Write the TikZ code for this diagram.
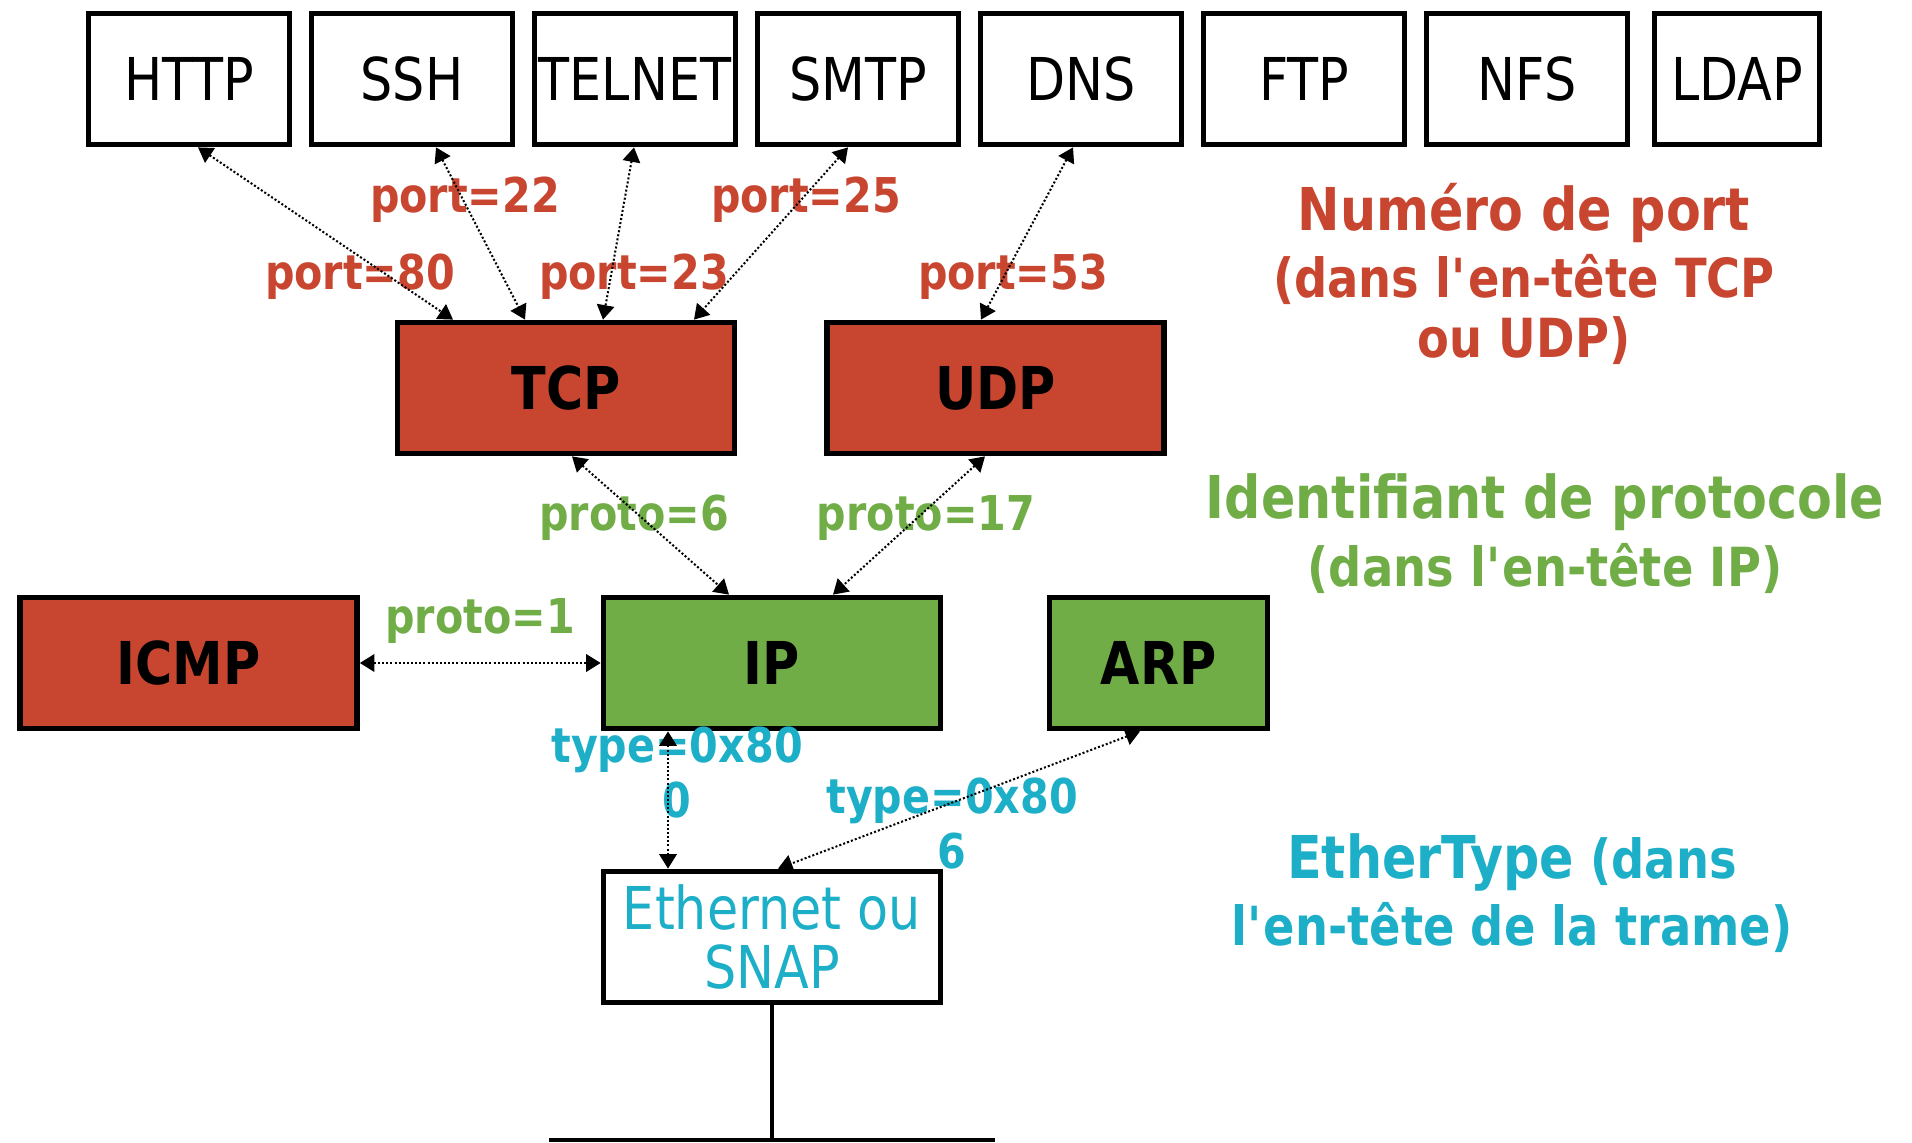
\documentclass[tikz,border=0pt]{standalone}
\usepackage{fontspec}
\setmainfont{DejaVu Sans}[FakeStretch=0.86]
\usetikzlibrary{arrows.meta,calc}
\definecolor{cred}{HTML}{C84630}
\definecolor{cgreen}{HTML}{70AD47}
\definecolor{ccyan}{HTML}{1EAFC8}
\newcommand\bigfs{\fontsize{33.6pt}{33.6pt}\selectfont}
\newcommand\labfs{\fontsize{27.3pt}{31.3pt}\selectfont}
\newcommand\subfs{\fontsize{30.7pt}{35pt}\selectfont}
\newcommand\apos{\textquotesingle}
\tikzset{
  box/.style={draw=black, line width=3.3pt, inner sep=0pt, minimum height=2.62cm, font=\bigfs},
  appbox/.style={box, fill=white, minimum width=4.02cm},
  redbox/.style={box, fill=cred, minimum width=6.74cm, font=\bigfs\bfseries},
  greenbox/.style={box, fill=cgreen, minimum width=6.74cm, font=\bigfs\bfseries},
  conn/.style={line width=1.15pt, dash pattern=on 1.15pt off 1.2pt,
    {Triangle[length=0.29cm,width=0.35cm]}-{Triangle[length=0.29cm,width=0.35cm]}},
  lbl/.style={inner sep=0pt, font=\labfs\bfseries, align=center},
}
\begin{document}
\begin{tikzpicture}[x=0.02cm, y=-0.02cm]
\useasboundingbox (0,0) rectangle (1912,1142);
% application boxes
\node[appbox] (HTTP)   at (189,79)  {HTTP};
\node[appbox] (SSH)    at (412,79)  {SSH};
\node[appbox] (TELNET) at (635,79)  {TELNET};
\node[appbox] (SMTP)   at (858,79)  {SMTP};
\node[appbox] (DNS)    at (1081,79) {DNS};
\node[appbox] (FTP)    at (1304,79) {FTP};
\node[appbox] (NFS)    at (1527,79) {NFS};
\node[appbox, minimum width=3.3cm] (LDAP) at (1737,79) {LDAP};
% transport / network
\node[redbox] (TCP)  at (566,388)   {TCP};
\node[redbox] (UDP)  at (995.5,388) {UDP};
\node[redbox] (ICMP) at (188.5,663) {ICMP};
\node[greenbox] (IP) at (772,663)   {IP};
\node[greenbox, minimum width=4.36cm] (ARP) at (1158.5,663) {ARP};
\node[box, fill=white, minimum width=6.74cm, text=ccyan, align=center] (ETH) at (772,937) {Ethernet ou\\SNAP};
% bus
\coordinate (busL) at (549,1140);
\coordinate (busR) at (995,1140);
\draw[line width=2.1pt] (ETH.south) -- (ETH.south |- busL);
\draw[line width=2.1pt] (busL) -- (busR);
% labels
\node[lbl, text=cred] (l22) at (465,200) {port=22};
\node[lbl, text=cred] (l25) at (806,200) {port=25};
\node[lbl, text=cred] (l80) at (360,277) {port=80};
\node[lbl, text=cred] (l23) at (634,277) {port=23};
\node[lbl, text=cred] (l53) at (1013,277) {port=53};
\node[lbl, text=cgreen] (p6) at (634,518) {proto=6};
\node[lbl, text=cgreen] (p17) at (926,518) {proto=17};
\node[lbl, text=cgreen] (p1) at (480,621) {proto=1};
\node[lbl, text=ccyan] (t800) at (677,773) {type=0x80\\0};
\node[lbl, text=ccyan] (t806) at (952,824) {type=0x80\\6};
% titles
\node[inner sep=0pt, text=cred, font=\bigfs\bfseries] (np1) at (1524,213) {Numéro de port};
\node[inner sep=0pt, text=cred, font=\subfs\bfseries] (np2) at (1524,279) {(dans l\apos en-tête TCP};
\node[inner sep=0pt, text=cred, font=\subfs\bfseries] (np3) at (1524,341) {ou UDP)};
\node[inner sep=0pt, text=cgreen, font=\bigfs\bfseries] (ip1) at (1545,502) {Identifiant de protocole};
\node[inner sep=0pt, text=cgreen, font=\subfs\bfseries] (ip2) at (1545,568) {(dans l\apos en-tête IP)};
\node[inner sep=0pt, text=ccyan, font=\bfseries] (et1) at (1512,862) {{\bigfs EtherType}{\subfs\ (dans}};
\node[inner sep=0pt, text=ccyan, font=\subfs\bfseries] (et2) at (1512,927) {l\apos en-tête de la trame)};
% connectors
\draw[conn] ($(HTTP.south)+(9,0)$) -- ($(TCP.north)+(-113,0)$);
\draw[conn] ($(SSH.south)+(24,0)$) -- ($(TCP.north)+(-41,0)$);
\draw[conn] ($(TELNET.south)+(-1,0)$) -- ($(TCP.north)+(37,0)$);
\draw[conn] ($(SMTP.south)+(-10,0)$) -- ($(TCP.north)+(128,0)$);
\draw[conn] ($(DNS.south)+(-8,0)$) -- ($(UDP.north)+(-14.5,0)$);
\draw[conn] ($(TCP.south)+(6,0)$) -- ($(IP.north)+(-43,0)$);
\draw[conn] ($(UDP.south)+(-10.5,0)$) -- ($(IP.north)+(61,0)$);
\draw[conn] (ICMP.east) -- (IP.west);
\draw[conn] ($(IP.south)+(-104,0)$) -- ($(ETH.north)+(-104,0)$);
\draw[conn] ($(ARP.south)+(-18.5,0)$) -- ($(ETH.north)+(6,0)$);
\end{tikzpicture}
\end{document}
